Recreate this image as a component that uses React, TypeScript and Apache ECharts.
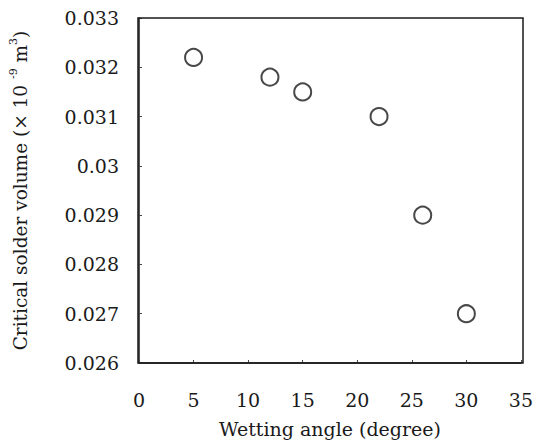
import React, { useEffect, useRef } from "react";
import * as echarts from "echarts";

const wettingAngle = [5, 12, 15, 22, 26, 30];
const solderVolume = [0.0322, 0.0318, 0.0315, 0.031, 0.029, 0.027];
const xAxisTitle = "Wetting angle (degree)";
const yAxisTitleMain = "Critical solder volume (× 10 ";
const yAxisExp1 = "-9";
const yAxisUnit = "m";
const yAxisExp2 = "3";

const FONT = "'DejaVu Serif', 'Liberation Serif', serif";

export default function App() {
  const ref = useRef<HTMLDivElement>(null);
  useEffect(() => {
    if (!ref.current) return;
    const chart = echarts.init(ref.current, undefined, { renderer: "svg" });
    chart.setOption({
      animation: false,
      backgroundColor: "#ffffff",
      grid: { left: 138, right: 13, top: 18, bottom: 85, containLabel: false },
      xAxis: {
        type: "value",
        min: 0,
        max: 35,
        interval: 5,
        name: xAxisTitle,
        nameLocation: "middle",
        nameGap: 56,
        nameTextStyle: { fontFamily: FONT, fontSize: 19, color: "#1a1a1a" },
        axisLine: { show: true, onZero: false, lineStyle: { color: "#1a1a1a", width: 1.5 } },
        axisTick: { show: true, inside: true, length: 3, lineStyle: { color: "#444" } },
        axisLabel: { fontFamily: FONT, fontSize: 19, color: "#1a1a1a", margin: 27 },
        splitLine: { show: false },
      },
      yAxis: {
        type: "value",
        min: 0.026,
        max: 0.033,
        interval: 0.001,
        name: `{main|${yAxisTitleMain}}{sup|${yAxisExp1}}{main| ${yAxisUnit}}{sup|${yAxisExp2}}{main|)}`,
        nameLocation: "middle",
        nameGap: 107,
        nameRotate: 90,
        nameTextStyle: {
          fontFamily: FONT,
          color: "#1a1a1a",
          rich: {
            main: { fontFamily: FONT, fontSize: 18.5, color: "#1a1a1a", lineHeight: 24 },
            sup: { fontFamily: FONT, fontSize: 11, color: "#1a1a1a", verticalAlign: "top", lineHeight: 24, padding: [0, 0, 10, 0] },
          },
        },
        axisLine: { show: true, lineStyle: { color: "#1a1a1a", width: 1.5 } },
        axisTick: { show: true, inside: true, length: 3, lineStyle: { color: "#444" } },
        axisLabel: {
          fontFamily: FONT,
          fontSize: 19,
          color: "#1a1a1a",
          margin: 20,
          formatter: (v: number) => String(parseFloat(v.toFixed(3))),
        },
        splitLine: { show: false },
      },
      series: [
        {
          type: "scatter",
          data: wettingAngle.map((x, i) => [x, solderVolume[i]]),
          symbol: "circle",
          symbolSize: 17,
          itemStyle: { color: "#ffffff", borderColor: "#1a1a1a", borderWidth: 2 },
        },
      ],
      graphic: [
        {
          type: "rect",
          shape: { x: 138, y: 18, width: 385, height: 345 },
          style: { fill: "none", stroke: "#1a1a1a", lineWidth: 1.5 },
          silent: true,
          z: 10,
        },
      ],
    });
    return () => chart.dispose();
  }, []);
  return <div ref={ref} style={{ width: 536, height: 448, position: "absolute", left: 0, top: 0 }} />;
}
